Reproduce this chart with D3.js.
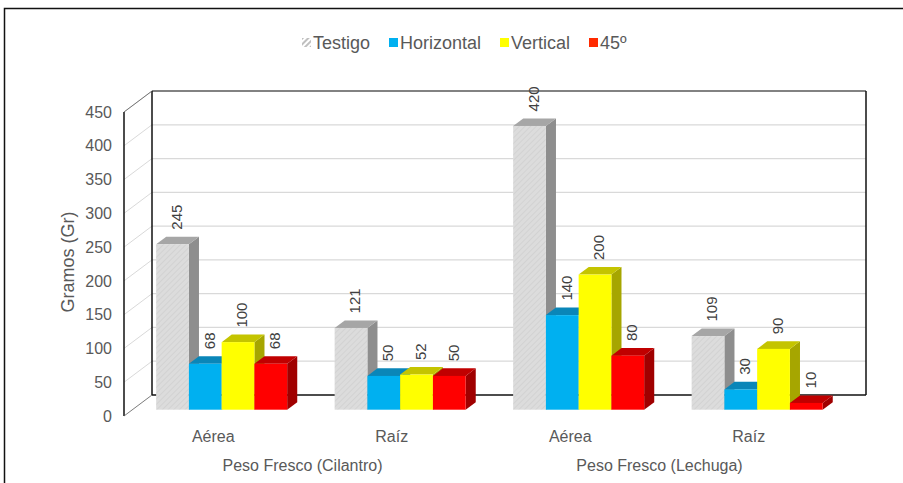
<!DOCTYPE html>
<html>
<head>
<meta charset="utf-8">
<script src="https://cdn.jsdelivr.net/npm/d3@7"></script>
<style>
  body { margin: 0; background: #fff; }
  svg { display: block; font-family: "Liberation Sans", Arial, sans-serif; }
</style>
</head>
<body>
<svg id="chart" width="903" height="483"></svg>
<script>
// data
var groups = ["Peso Fresco (Cilantro)", "Peso Fresco (Lechuga)"];
var categories = ["Aérea", "Raíz", "Aérea", "Raíz"];
var series = ["Testigo", "Horizontal", "Vertical", "45º"];
var testigo = [245, 121, 420, 109];
var horizontal = [68, 50, 140, 30];
var vertical = [100, 52, 200, 90];
var grado45 = [68, 50, 80, 10];
var yTicks = [0, 50, 100, 150, 200, 250, 300, 350, 400, 450];

var values = [testigo, horizontal, vertical, grado45];
var fronts = ["url(#hatch)", "#00b0f0", "#ffff00", "#ff0000"];
var tops = ["#a6a6a6", "#0a86b8", "#c4c400", "#c00000"];
var sides = ["#8e8e8e", "#0a79a6", "#a6a600", "#a00000"];

var svg = d3.select("#chart");
var textCol = "#595959";

// 3d box: front plane + depth offset
var front = {left: 124, right: 838, top: 112, bottom: 416};
var depth = {dx: 28, dy: 21};
function pt(x, y, z) { return [x + depth.dx * z, y - depth.dy * z]; }

var y = d3.scaleLinear().domain([0, 450]).range([front.bottom, front.top]);
var x = d3.scaleBand().domain(d3.range(categories.length))
  .range([front.left, front.right]).paddingInner(0.266).paddingOuter(0.133);
var xs = d3.scaleBand().domain(series).range([0, x.bandwidth()]);

var defs = svg.append("defs");
var hp = defs.append("pattern").attr("id", "hatch").attr("patternUnits", "userSpaceOnUse")
  .attr("width", 4).attr("height", 4).attr("patternTransform", "rotate(45)");
hp.append("rect").attr("width", 4).attr("height", 4).attr("fill", "#dcdcdc");
hp.append("rect").attr("width", 1).attr("height", 4).attr("fill", "#d2d2d2");
var lp = defs.append("pattern").attr("id", "slash").attr("patternUnits", "userSpaceOnUse")
  .attr("width", 4).attr("height", 4).attr("patternTransform", "rotate(45)");
lp.append("rect").attr("width", 4).attr("height", 4).attr("fill", "#fff");
lp.append("rect").attr("width", 2).attr("height", 4).attr("fill", "#bfbfbf");

// outer frame
svg.append("rect").attr("x", 4.5).attr("y", 8.5).attr("width", 1000).attr("height", 1000)
  .attr("fill", "none").attr("stroke", "#111").attr("stroke-width", 1.5);

// gridlines on back wall and left wall
var g = svg.append("g");
yTicks.forEach(function(t) {
  if (t === 0) return;
  var a = pt(front.left, y(t), 0), b = pt(front.left, y(t), 1), c = pt(front.right, y(t), 1);
  g.append("line").attr("x1", a[0]).attr("y1", a[1]).attr("x2", b[0]).attr("y2", b[1])
    .attr("stroke", "#d9d9d9").attr("stroke-width", 1);
  if (t !== 450)
    g.append("line").attr("x1", b[0]).attr("y1", b[1]).attr("x2", c[0]).attr("y2", c[1])
      .attr("stroke", "#d9d9d9").attr("stroke-width", 1.2);
});

// walls outline
function seg(p, q, col, w) {
  g.append("line").attr("x1", p[0]).attr("y1", p[1]).attr("x2", q[0]).attr("y2", q[1])
    .attr("stroke", col).attr("stroke-width", w);
}
var bl = pt(front.left, y(0), 1), tl = pt(front.left, y(450), 1);
var br = pt(front.right, y(0), 1), tr = pt(front.right, y(450), 1);
seg(tl, tr, "#595959", 1.5);
seg(tr, br, "#111", 1.5);
seg(bl, br, "#111", 1.5);
seg(tl, bl, "#111", 1.5);
seg([front.left, y(0)], [front.left, y(450)], "#111", 1.5);
seg([front.left, y(450)], tl, "#595959", 0.8);
seg([front.left, y(0)], bl, "#595959", 0.8);

// bars
var z0 = 0.3, z1 = 0.66;
var bars = svg.append("g");
var labels = [];
d3.range(categories.length).forEach(function(ci) {
  series.forEach(function(s, si) {
    var v = values[si][ci];
    var x0 = x(ci) + xs(s), x1 = x0 + xs.bandwidth();
    var fb0 = pt(x0, y(0), z0), ft0 = pt(x0, y(v), z0), ft1 = pt(x1, y(v), z0), fb1 = pt(x1, y(0), z0);
    var bt0 = pt(x0, y(v), z1), bt1 = pt(x1, y(v), z1), bb1 = pt(x1, y(0), z1);
    bars.append("path").attr("d", d3.line()([ft1, bt1, bb1, fb1])).attr("fill", sides[si]);
    bars.append("path").attr("d", d3.line()([ft0, ft1, bt1, bt0])).attr("fill", tops[si]);
    bars.append("rect").attr("x", fb0[0]).attr("y", ft0[1])
      .attr("width", fb1[0] - fb0[0]).attr("height", fb0[1] - ft0[1]).attr("fill", fronts[si]);
    labels.push({v: v, cx: (fb0[0] + fb1[0]) / 2 + 4, top: bt0[1] - 7});
  });
});

// data labels, rotated
svg.append("g").selectAll("text").data(labels).join("text")
  .attr("transform", function(d) { return "translate(" + d.cx + "," + d.top + ") rotate(-90)"; })
  .attr("dy", "0.35em").attr("text-anchor", "start")
  .attr("fill", "#404040").attr("font-size", 15)
  .text(function(d) { return d.v; });

// y axis
var yAxis = svg.append("g").attr("transform", "translate(" + front.left + ",0)")
  .call(d3.axisLeft(y).tickValues(yTicks).tickSize(0).tickPadding(12));
yAxis.select(".domain").remove();
yAxis.selectAll("text").attr("fill", textCol).attr("font-size", 16)
  .attr("font-family", "Liberation Sans, Arial, sans-serif");

svg.append("text").attr("transform", "translate(74,262) rotate(-90)")
  .attr("text-anchor", "middle").attr("fill", textCol).attr("font-size", 18)
  .text("Gramos (Gr)");

// category labels
svg.append("g").selectAll("text").data(categories).join("text")
  .attr("x", function(d, i) { return x(i) + x.bandwidth() / 2; })
  .attr("y", 442).attr("text-anchor", "middle").attr("fill", textCol).attr("font-size", 16)
  .text(function(d) { return d; });

svg.append("g").selectAll("text").data(groups).join("text")
  .attr("x", function(d, i) { return (x(2 * i) + x(2 * i + 1) + x.bandwidth()) / 2; })
  .attr("y", 471).attr("text-anchor", "middle").attr("fill", textCol).attr("font-size", 16)
  .text(function(d) { return d; });

// legend
var legX = [302, 389, 500, 589];
var legFill = ["url(#slash)", "#00b0f0", "#ffff00", "#ff2a00"];
var leg = svg.append("g").selectAll("g").data(series).join("g")
  .attr("transform", function(d, i) { return "translate(" + legX[i] + ",43)"; });
leg.append("rect").attr("x", 0).attr("y", -5).attr("width", 9).attr("height", 9)
  .attr("fill", function(d, i) { return legFill[i]; });
leg.append("text").attr("x", 11).attr("dy", "0.35em").attr("fill", textCol).attr("font-size", 18)
  .text(function(d) { return d; });
</script>
</body>
</html>
